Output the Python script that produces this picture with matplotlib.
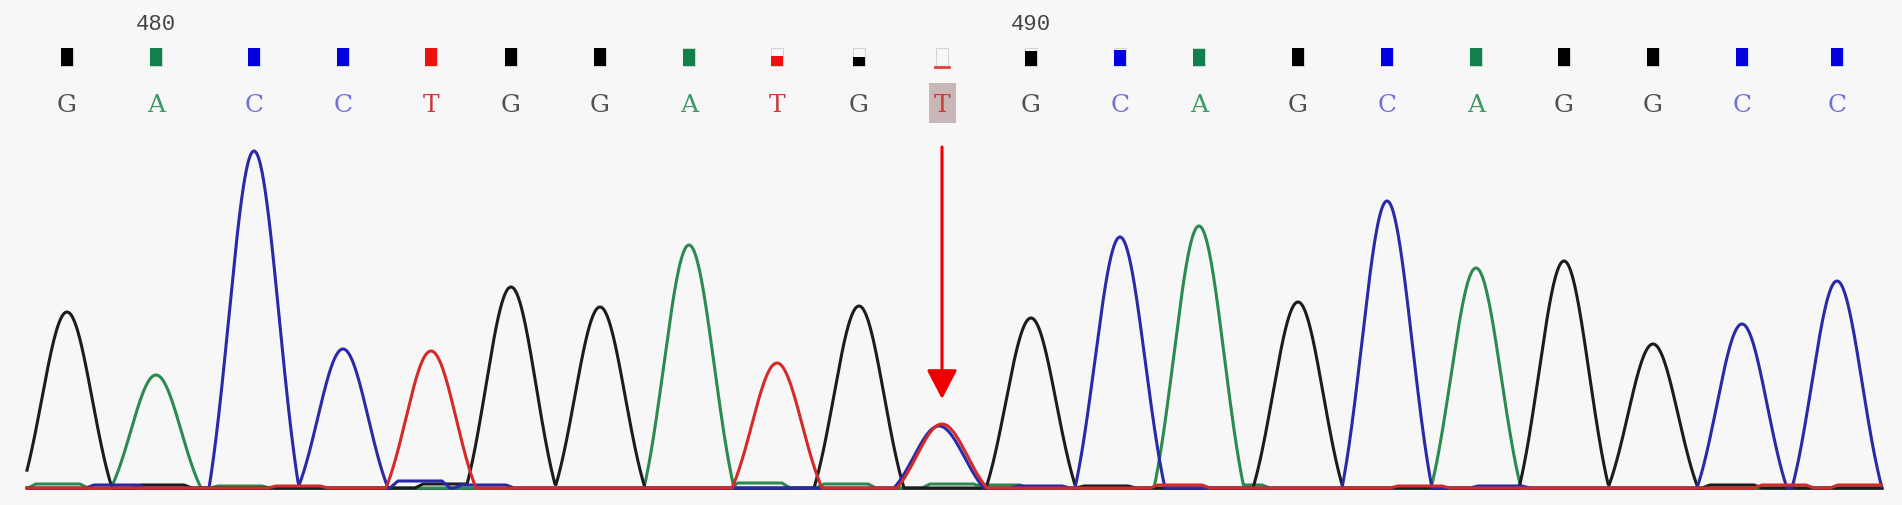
import numpy as np
import matplotlib
matplotlib.use("Agg")
import matplotlib.pyplot as plt
from matplotlib.patches import Rectangle

# 测序峰图数据：碱基、峰位置（扫描点）、峰高（信号强度）
bases = list("GACCTGGATGTGCAGCAGGCC")
first_index = 479
peak_pos = [67, 156, 254, 343, 431, 511, 600, 689, 777, 859, 942,
            1031, 1120, 1199, 1298, 1387, 1476, 1564, 1653, 1742, 1837]
peak_height = [176, 113, 337, 139, 137, 201, 181, 243, 125, 182, 64,
               170, 251, 262, 186, 287, 220, 227, 144, 164, 207]
# 质量条（0-1）
quality = [1, 1, 1, 1, 1, 1, 1, 0.92, 0.55, 0.5, 0.06,
           0.85, 0.9, 0.92, 1, 1, 1, 1, 1, 1, 1]

# 突变位点的次峰（T/C 双峰）
second_base = ["C"]
second_pos = [939]
second_height = [62]

# 基线附近的小杂峰
noise_base = ["A", "C", "G", "A", "T", "C", "G", "C", "A", "A", "A", "A", "C", "G",
              "T", "A", "T", "G", "T", "T", "C"]
noise_pos = [58, 116, 162, 240, 298, 420, 445, 484, 760, 846, 952, 998, 1040, 1106,
             1180, 1240, 1420, 1732, 1784, 1860, 1500]
noise_height = [4, 3, 3, 2, 2, 7, 4, 3, 5, 4, 4, 3, 2, 2,
                3, 3, 2, 3, 3, 3, 2]

highlight = 942
arrow_top, arrow_tip = 341, 89

trace_color = {"G": "#1c1c1c", "A": "#2b8a50", "C": "#2a2aa8", "T": "#d42a2a"}
square_color = {"G": "#000000", "A": "#11804a", "C": "#0000e0", "T": "#ee1111"}
letter_color = {"G": "#505050", "A": "#3c9a66", "C": "#7070d8", "T": "#c83a3a"}

fig = plt.figure(figsize=(19.02, 5.06), dpi=100, facecolor="#f7f7f7")
ax = fig.add_axes([0, 0, 1, 1])
ax.set_facecolor("#f7f7f7")
ax.set_xlim(0, 1902)
ax.set_ylim(-17, 489)
ax.axis("off")

x = np.arange(27, 1882, 0.5)
w = 45.0


def arch(c, h, hw=w):
    d = x - c
    sg = hw * 0.56
    floor = np.exp(-hw ** 2 / (2 * sg ** 2))
    y = (np.exp(-d ** 2 / (2 * sg ** 2)) - floor) / (1 - floor)
    y[np.abs(d) > hw] = 0
    return h * y


def flat(c, h, hw=22):
    d = np.abs(x - c)
    y = np.clip((hw + 8 - d) / 8, 0, 1)
    return h * y


traces = {b: np.zeros_like(x) for b in "GACT"}
for b, c, h in zip(bases, peak_pos, peak_height):
    traces[b] += arch(c, h)
for b, c, h in zip(second_base, second_pos, second_height):
    traces[b] += arch(c, h)
for b, c, h in zip(noise_base, noise_pos, noise_height):
    traces[b] = np.maximum(traces[b], flat(c, h))

# 画四色曲线
for b in ["A", "G", "C", "T"]:
    ax.plot(x, traces[b], color=trace_color[b], lw=2.2, zorder=3)

# 基线
ax.plot([27, 1882], [0, 0], color="#111111", lw=1.8, zorder=2)

# 高亮突变碱基
ax.add_patch(Rectangle((highlight - 13, 365), 27, 40, facecolor="#c9b6b6",
                       edgecolor="none", zorder=1))

# 质量方块、碱基字母和位置编号
for i, (b, c, q) in enumerate(zip(bases, peak_pos, quality)):
    ax.add_patch(Rectangle((c - 6, 422), 12, 18, facecolor="none",
                           edgecolor="#d4d4d4", lw=0.8, zorder=2))
    if q > 0.1:
        ax.add_patch(Rectangle((c - 6, 422), 12, 18 * q, facecolor=square_color[b],
                               edgecolor="none", zorder=3))
    else:
        ax.plot([c - 7, c + 7], [421, 421], color="#e04040", lw=2, zorder=3)
    ax.text(c, 383, b, ha="center", va="center", fontsize=18,
            family="DejaVu Serif", color=letter_color[b], zorder=4)
    if (first_index + i) % 10 == 0:
        ax.text(c, 465, str(first_index + i), ha="center", va="center", fontsize=16,
                family="Liberation Mono", color="#444444")

# 红色箭头
ax.annotate("", xy=(highlight, arrow_tip), xytext=(highlight, arrow_top),
            arrowprops=dict(arrowstyle="-|>,head_length=0.9,head_width=0.47",
                            mutation_scale=20, color="#ee0000", lw=2.2,
                            shrinkA=0, shrinkB=0), zorder=5)

plt.savefig("out.png", dpi=100, facecolor=fig.get_facecolor())
